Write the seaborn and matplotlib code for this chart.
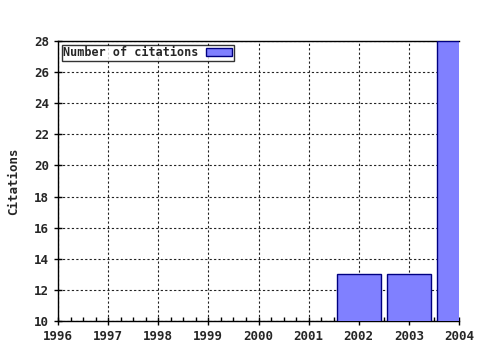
import matplotlib
matplotlib.use("Agg")
import matplotlib.pyplot as plt
import seaborn as sns
import pandas as pd
from matplotlib.ticker import MultipleLocator

years = [2002, 2003, 2004]
citations = [13, 13, 28]
series_label = "Number of citations"
x_ticks = [1996, 1997, 1998, 1999, 2000, 2001, 2002, 2003, 2004]
y_ticks = [10, 12, 14, 16, 18, 20, 22, 24, 26, 28]

sns.set_style("white")
plt.rcParams['font.family'] = ['DejaVu Sans Mono']
plt.rcParams['font.weight'] = 'bold'

df = pd.DataFrame({"year": years, "citations": citations, "series": series_label})

fig = plt.figure(figsize=(4.8, 3.5), dpi=100)
ax = fig.add_axes([58/480, 1 - 321/350, (459-58)/480, (321-41)/350])

sns.barplot(data=df, x="year", y="citations", hue="series", native_scale=True,
            width=0.88, palette=["#8080ff"], edgecolor="#000080", linewidth=1,
            saturation=1, ax=ax, zorder=3)

ax.set_xlim(1996, 2004)
ax.set_ylim(10, 28)
ax.set_xticks(x_ticks)
ax.set_xticklabels([str(t) for t in x_ticks])
ax.set_yticks(y_ticks)
ax.xaxis.set_minor_locator(MultipleLocator(0.25))
ax.tick_params(axis='both', which='major', labelsize=9, length=6, width=1, color='black',
               direction='inout', bottom=True, left=True)
ax.tick_params(axis='x', which='minor', length=3, width=1, color='black',
               direction='in', bottom=True)
ax.grid(True, which='major', linestyle=(0, (2, 2)), color='#222222', linewidth=0.8, zorder=0)
ax.set_axisbelow(True)
for s in ax.spines.values():
    s.set_color('black')
    s.set_linewidth(1)
ax.spines['right'].set_visible(False)
ax.set_xlabel("")
ax.set_ylabel("Citations", fontsize=9, fontweight='bold', labelpad=10)

leg = ax.legend(loc='upper left', markerfirst=False, frameon=True, fancybox=False,
                edgecolor='black', fontsize=8.5, borderpad=0.15, handlelength=2.2,
                handleheight=0.6, borderaxespad=0.3, handletextpad=0.6)
leg.get_frame().set_linewidth(1)

fig.savefig("out.png", dpi=100)
